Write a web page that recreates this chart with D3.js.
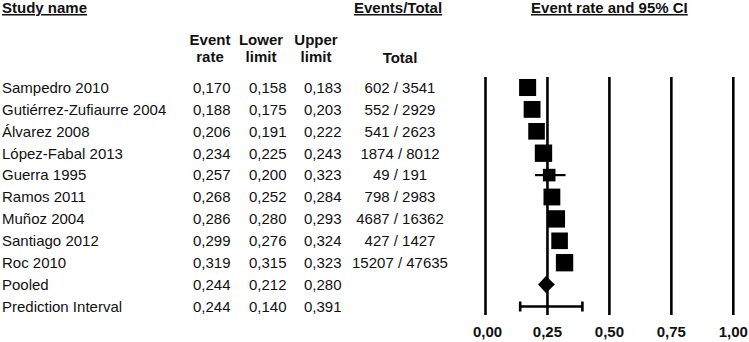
<!DOCTYPE html>
<meta charset="utf-8">
<html>

<head>
    <meta charset="utf-8">
    <title>Forest plot</title>
    <style>
        body { margin: 0; background: #fff; }
        svg { display: block; font-family: "Liberation Sans", Arial, sans-serif; }
    </style>
</head>

<body>
    <script src="https://d3js.org/d3.v7.min.js"></script>
    <script>
        // data
        const studies = ["Sampedro 2010", "Gutiérrez-Zufiaurre 2004", "Álvarez 2008", "López-Fabal 2013",
            "Guerra 1995", "Ramos 2011", "Muñoz 2004", "Santiago 2012", "Roc 2010"];
        const rates = [0.170, 0.188, 0.206, 0.234, 0.257, 0.268, 0.286, 0.299, 0.319];
        const lowers = [0.158, 0.175, 0.191, 0.225, 0.200, 0.252, 0.280, 0.276, 0.315];
        const uppers = [0.183, 0.203, 0.222, 0.243, 0.323, 0.284, 0.293, 0.324, 0.323];
        const events = [602, 552, 541, 1874, 49, 798, 4687, 427, 15207];
        const totals = [3541, 2929, 2623, 8012, 191, 2983, 16362, 1427, 47635];
        const weights = [11.4, 11.1, 10.8, 11.8, 6.2, 11.1, 11.8, 10.8, 11.8]; // relative weight (%)
        const pooled = {name: "Pooled", rate: 0.244, lower: 0.212, upper: 0.280};
        const prediction = {name: "Prediction Interval", rate: 0.244, lower: 0.140, upper: 0.391};
        const ticks = [0, 0.25, 0.5, 0.75, 1];

        const fmt = v => d3.format(".3f")(v).replace(".", ",");
        const fmtTick = v => d3.format(".2f")(v).replace(".", ",");

        // layout
        const width = 749, height = 342;
        const rowTop = 87.5, rowStep = 21.9;
        const plotTop = 77, plotBottom = 315;
        const textColor = "#111";

        const svg = d3.select("body").append("svg")
            .attr("width", width)
            .attr("height", height)
            .attr("viewBox", `0 0 ${width} ${height}`);

        const rows = studies.map((s, i) => ({
            name: s, rate: rates[i], lower: lowers[i], upper: uppers[i],
            events: events[i], total: totals[i], weight: weights[i]
        }));
        const allRows = rows.concat([pooled, prediction]);

        // scales
        const scaleX = d3.scaleLinear().domain([0, 1]).range([485.5, 733.3]);
        const scaleY = d3.scaleLinear().domain([0, 1]).range([rowTop, rowTop + rowStep]);
        const scaleSize = d3.scaleSqrt().domain([0, 12]).range([0, 17.5]);

        // headers
        const groupHeader = svg.append("g")
            .attr("class", "groupHeader")
            .attr("font-weight", "bold")
            .attr("font-size", 15)
            .attr("fill", textColor);
        function underlined(text, x, anchor) {
            groupHeader.append("text")
                .attr("x", x)
                .attr("y", 13)
                .attr("text-anchor", anchor)
                .attr("text-decoration", "underline")
                .text(text);
        }
        underlined("Study name", 2, "start");
        underlined("Events/Total", 354, "start");
        underlined("Event rate and 95% CI", scaleX(0.5), "middle");

        const colHeads = [["Event", "rate", 210], ["Lower", "limit", 261], ["Upper", "limit", 316]];
        colHeads.forEach(([a, b, x]) => {
            groupHeader.append("text").attr("x", x).attr("y", 45).attr("text-anchor", "middle").text(a);
            groupHeader.append("text").attr("x", x).attr("y", 62).attr("text-anchor", "middle").text(b);
        });
        groupHeader.append("text").attr("x", 400).attr("y", 63).attr("text-anchor", "middle").text("Total");

        // table
        const groupTable = svg.append("g")
            .attr("class", "groupTable")
            .attr("font-size", 15)
            .attr("fill", textColor);
        const rowG = groupTable.selectAll("g")
            .data(allRows)
            .join("g")
            .attr("transform", (d, i) => `translate(0, ${scaleY(i) + 5.3})`);
        rowG.append("text").attr("x", 2).text(d => d.name);
        rowG.append("text").attr("x", 230.5).attr("text-anchor", "end").text(d => fmt(d.rate));
        rowG.append("text").attr("x", 286.5).attr("text-anchor", "end").text(d => fmt(d.lower));
        rowG.append("text").attr("x", 341.5).attr("text-anchor", "end").text(d => fmt(d.upper));
        rowG.filter(d => d.total !== undefined)
            .append("text").attr("x", 400).attr("text-anchor", "middle")
            .text(d => `${d.events} / ${d.total}`);

        // grid lines
        const groupGrid = svg.append("g").attr("class", "groupGrid");
        groupGrid.selectAll("line")
            .data(ticks)
            .join("line")
            .attr("x1", d => scaleX(d)).attr("x2", d => scaleX(d))
            .attr("y1", plotTop).attr("y2", plotBottom)
            .attr("stroke", "#000")
            .attr("stroke-width", 2.6);
        svg.append("g")
            .attr("font-size", 15)
            .attr("font-weight", "bold")
            .attr("fill", textColor)
            .selectAll("text")
            .data(ticks)
            .join("text")
            .attr("x", d => scaleX(d) + (d === 0 ? 2 : 0))
            .attr("y", 337)
            .attr("text-anchor", "middle")
            .text(fmtTick);

        // study marks
        const groupMarks = svg.append("g").attr("class", "groupMarks");
        groupMarks.selectAll("line.ci")
            .data(rows)
            .join("line")
            .attr("class", "ci")
            .attr("x1", d => scaleX(d.lower)).attr("x2", d => scaleX(d.upper))
            .attr("y1", (d, i) => scaleY(i)).attr("y2", (d, i) => scaleY(i))
            .attr("stroke", "#000")
            .attr("stroke-width", 2.2);
        groupMarks.selectAll("rect")
            .data(rows)
            .join("rect")
            .attr("x", d => scaleX(d.rate) - scaleSize(d.weight) / 2)
            .attr("y", (d, i) => scaleY(i) - scaleSize(d.weight) / 2)
            .attr("width", d => scaleSize(d.weight))
            .attr("height", d => scaleSize(d.weight))
            .attr("fill", "#000");

        // pooled diamond
        const yPooled = scaleY(rows.length);
        svg.append("path")
            .attr("d", `M${scaleX(pooled.lower)},${yPooled} L${scaleX(pooled.rate)},${yPooled - 8.5} L${scaleX(pooled.upper)},${yPooled} L${scaleX(pooled.rate)},${yPooled + 8.5} Z`)
            .attr("fill", "#000");

        // prediction interval
        const yPred = scaleY(rows.length + 1);
        const groupPred = svg.append("g")
            .attr("stroke", "#000")
            .attr("stroke-width", 2.6);
        groupPred.append("line")
            .attr("x1", scaleX(prediction.lower)).attr("x2", scaleX(prediction.upper))
            .attr("y1", yPred).attr("y2", yPred);
        [prediction.lower, prediction.upper].forEach(v => {
            groupPred.append("line")
                .attr("x1", scaleX(v)).attr("x2", scaleX(v))
                .attr("y1", yPred - 5).attr("y2", yPred + 5);
        });
    </script>
</body>

</html>
